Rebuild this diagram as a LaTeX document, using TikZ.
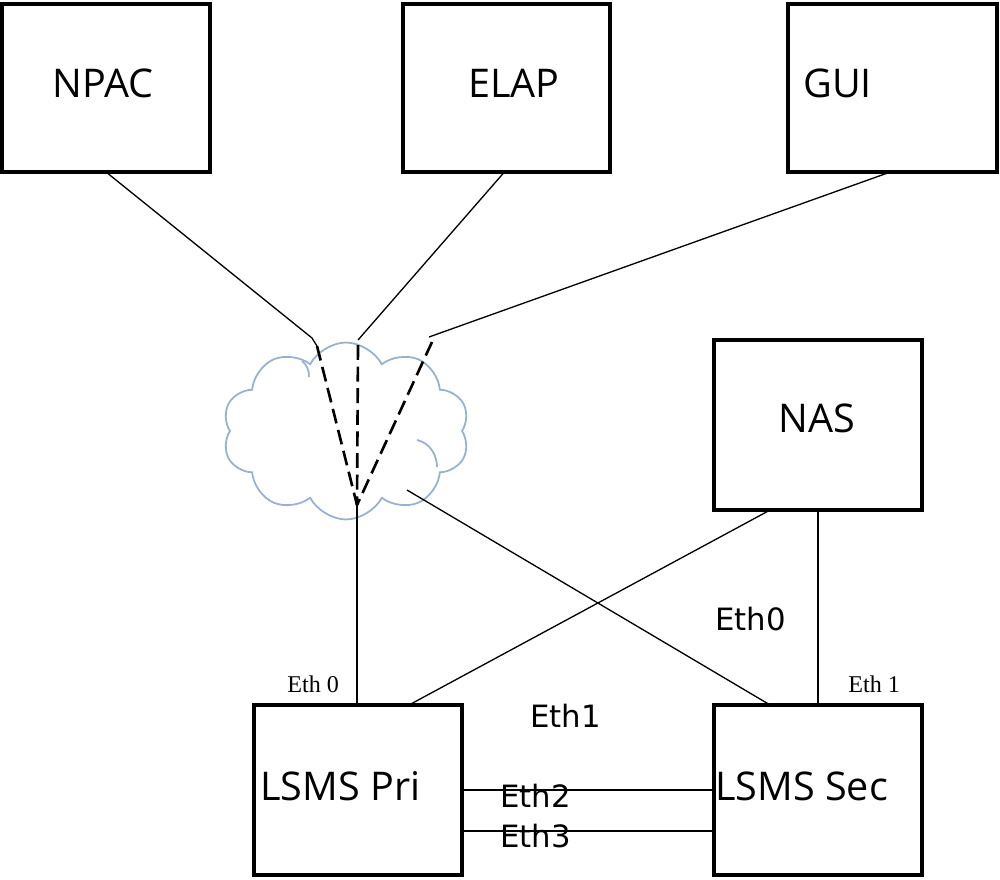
\documentclass[tikz,border=0pt]{standalone}
\usepackage{fontspec}
\usetikzlibrary{shapes.symbols,calc}
\newfontfamily\boxfont{Open Sans}
\newfontfamily\ethfont{DejaVu Sans}
\newfontfamily\serffont{Liberation Serif}
\definecolor{cloudblue}{RGB}{150,178,208}
\tikzset{
  box/.style={draw=black,line width=2.8pt,fill=none,inner sep=0pt,outer sep=0pt},
  boxlbl/.style={font=\boxfont\fontsize{22.5}{25}\selectfont,anchor=base west,inner sep=0pt},
  ethlbl/.style={font=\ethfont\fontsize{17.5}{20}\selectfont,anchor=base west,inner sep=0pt},
  serlbl/.style={font=\serffont\fontsize{13.7}{16}\selectfont,anchor=base west,inner sep=0pt},
  wire/.style={draw=black,line width=0.75pt},
  dwire/.style={draw=black,line width=1.5pt,dash pattern=on 8.5pt off 3.8pt},
  cloudsh/.style={cloud,cloud puffs=10,cloud puff arc=125,cloud ignores aspect,draw=cloudblue,line width=1pt,inner sep=0pt},
  inarc/.style={draw=cloudblue,line width=1pt},
}
\begin{document}
\begin{tikzpicture}[x=0.02cm,y=-0.02cm]
\useasboundingbox (0,0) rectangle (1000,879);
\fill[white] (0,0) rectangle (1000,879);

% boxes
\node[box,minimum width=4.16cm,minimum height=3.36cm] (npac) at (106,88) {};
\node[box,minimum width=4.14cm,minimum height=3.36cm] (elap) at (506.5,88) {};
\node[box,minimum width=4.18cm,minimum height=3.36cm] (gui) at (892.5,88) {};
\node[box,minimum width=4.16cm,minimum height=3.40cm] (nas) at (818,425) {};
\node[box,minimum width=4.16cm,minimum height=3.40cm] (pri) at (358,790) {};
\node[box,minimum width=4.16cm,minimum height=3.40cm] (sec) at (818,790) {};

% box labels
\node[boxlbl] (npact) at (52,97) {NPAC};
\node[boxlbl] (elapt) at (468,97) {ELAP};
\node[boxlbl] (guit) at (803,97) {GUI};
\node[boxlbl] (nast) at (778,432) {NAS};
\node[boxlbl] (prit) at (260,800) {LSMS Pri};
\node[boxlbl] (sect) at (715,800) {LSMS Sec};

% cloud
\node[cloudsh,minimum width=4.94cm,minimum height=3.54cm] (cloud) at (346,431) {};
\draw[inarc] (302,361) .. controls (307,365) and (309,370) .. (309,377);
\draw[inarc] (417,440) .. controls (430,443) and (437,455) .. (437,467);

% free ends inside the cloud
\coordinate (t1) at (312,338);
\coordinate (t2) at (358,340);
\coordinate (t3) at (429,337);
\coordinate (d1) at (317,346);
\coordinate (d2) at (358,345);
\coordinate (d3) at (432,342);
\coordinate (hub) at (357,505);
\coordinate (cl) at (407,490);

% solid links into the cloud
\draw[wire] (npac.south) -- (t1) -- (d1);
\draw[wire] ($(elap.south west)!0.49!(elap.south east)$) -- (t2);
\draw[wire] ($(gui.south west)!0.49!(gui.south east)$) -- (t3);
% dashed paths through the cloud
\draw[dwire] (d1) -- (hub);
\draw[dwire] (d2) -- (hub);
\draw[dwire] (d3) -- (hub);
% cloud to LSMS
\draw[wire] (hub) -- (hub |- pri.north);
\draw[wire] (cl) -- ($(sec.north west)!0.27!(sec.north east)$);
% NAS links
\draw[wire] ($(nas.south west)!0.27!(nas.south east)$) -- ($(pri.north west)!0.745!(pri.north east)$);
\draw[wire] (nas.south) -- (nas.south |- sec.north);
% Pri - Sec links
\draw[wire] (pri.east) -- (sec.west);
\draw[wire] ($(pri.south east)!0.259!(pri.north east)$) coordinate (e3a) -- (e3a -| sec.west);

% interface labels
\node[serlbl] (leth0) at (287,692) {Eth 0};
\node[serlbl] (leth1) at (848,692) {Eth 1};
\node[ethlbl] (le0) at (715,630) {Eth0};
\node[ethlbl] (le1) at (530,727) {Eth1};
\node[ethlbl] (le2) at (500,807) {Eth2};
\node[ethlbl] (le3) at (500,847) {Eth3};
\end{tikzpicture}
\end{document}
